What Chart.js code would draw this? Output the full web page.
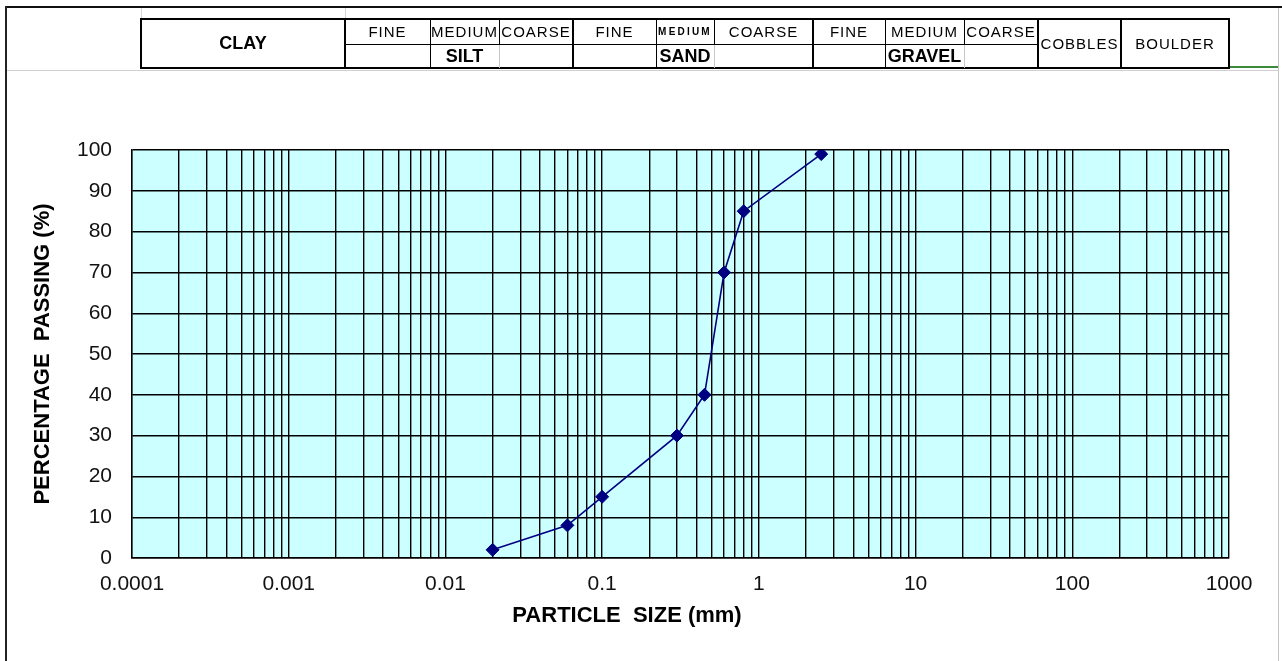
<!DOCTYPE html>
<html>
<head>
<meta charset="utf-8">
<script src="https://cdn.jsdelivr.net/npm/chart.js@4/dist/chart.umd.min.js"></script>
<style>
  html, body { margin: 0; padding: 0; background: #fff; overflow: hidden; }
  #wrap { position: relative; width: 1282px; height: 661px; }
  #chart { position: absolute; left: 0; top: 0; }
  .ln { position: absolute; background: #000; }
  .cell { position: absolute; display: flex; align-items: center; justify-content: center;
          font-family: 'Liberation Sans', Arial, sans-serif; color: #000; white-space: nowrap; }
  .reg { font-size: 15px; letter-spacing: 1px; }
  .bold { font-size: 18px; font-weight: bold; }
  .tiny { font-size: 10px; font-weight: bold; letter-spacing: 2.2px; }
</style>
</head>
<body>
<div id="wrap">
  <canvas id="chart" width="1282" height="661"></canvas>
  <div id="header"></div>
</div>
<script>
// ---------------- data ----------------
const particleSizes = [0.02, 0.06, 0.1, 0.3, 0.45, 0.6, 0.8, 2.5];     // mm
const percentPassing = [2, 8, 15, 30, 40, 70, 85, 99];                  // %
const xDecadeLabels = ['0.0001', '0.001', '0.01', '0.1', '1', '10', '100', '1000'];
const yTickValues = [0, 10, 20, 30, 40, 50, 60, 70, 80, 90, 100];
const xTitle = 'PARTICLE  SIZE (mm)';
const yTitle = 'PERCENTAGE  PASSING (%)';

// header classification labels
const topRowLabels = ['FINE', 'MEDIUM', 'COARSE', 'FINE', 'MEDIUM', 'COARSE', 'FINE', 'MEDIUM', 'COARSE'];
const groupLabels = ['SILT', 'SAND', 'GRAVEL'];
const sideLabels = ['CLAY', 'COBBLES', 'BOULDER'];

// ---------------- header (layout) ----------------
const hdr = document.getElementById('header');
function line(l, t, w, h, color) {
  const d = document.createElement('div');
  d.className = 'ln';
  d.style.left = l + 'px'; d.style.top = t + 'px';
  d.style.width = w + 'px'; d.style.height = h + 'px';
  if (color) d.style.background = color;
  hdr.appendChild(d);
}
function cell(l, t, r, b, text, cls) {
  const d = document.createElement('div');
  d.className = 'cell ' + cls;
  d.style.left = l + 'px'; d.style.top = t + 'px';
  d.style.width = (r - l) + 'px'; d.style.height = (b - t) + 'px';
  d.textContent = text;
  hdr.appendChild(d);
}
// page frame
line(5, 6, 1277, 2, '#111');
line(5, 6, 2, 655, '#222');
line(1278, 8, 1, 653, '#c4c4c4');
line(7, 70, 1271, 1, '#d0d0d0');
line(1230, 66, 48, 2, '#3c8a3c');
line(141, 8, 1, 11, '#d4d4d4');
line(345, 8, 1, 11, '#d4d4d4');

const edges = [141, 345, 430, 499, 573, 656, 714, 813, 885, 964, 1038, 1121, 1229];
const T = 19, M = 44, B = 68;
// outer table border
line(140, 18, 1090, 2);
line(140, 67, 1090, 2);
line(140, 18, 2, 51);
line(1228, 18, 2, 51);
// group boundaries (full height)
[345, 573, 813, 1038, 1121].forEach(x => line(x - 1, 18, 2, 51));
// sub-divisions in upper row
[430, 499, 656, 714, 885, 964].forEach(x => line(x, 19, 1, 25));
// lower row dividers
[430, 656, 885].forEach(x => line(x, 44, 1, 24));
[499, 714, 964].forEach(x => line(x, 44, 1, 24, '#c8c8c8'));
// middle horizontal divider
line(345, 44, 693, 1);

// texts
cell(edges[0], T, edges[1], B, sideLabels[0], 'bold');
for (let i = 0; i < 9; i++) {
  const cls = (i === 4) ? 'tiny' : 'reg';
  cell(edges[i + 1], T, edges[i + 2], M, topRowLabels[i], cls);
}
cell(edges[2], M, edges[3], B, groupLabels[0], 'bold');
cell(edges[5], M, edges[6], B, groupLabels[1], 'bold');
cell(edges[8], M, edges[9], B, groupLabels[2], 'bold');
cell(edges[10], T, edges[11], B, sideLabels[1], 'reg');
cell(edges[11], T, edges[12], B, sideLabels[2], 'reg');

// ---------------- chart ----------------
const points = particleSizes.map((x, i) => ({ x: x, y: percentPassing[i] }));

function logGridTicks() {
  const ticks = [];
  for (let e = 0; e < xDecadeLabels.length; e++) {
    const base = parseFloat(xDecadeLabels[e]);
    if (e === xDecadeLabels.length - 1) { ticks.push({ value: base }); break; }
    for (let m = 1; m <= 9; m++) ticks.push({ value: base * m });
  }
  return ticks;
}

const bgPlugin = {
  id: 'plotBg',
  beforeDraw(chart) {
    const { ctx, chartArea: a } = chart;
    ctx.save();
    ctx.fillStyle = '#ccffff';
    ctx.fillRect(a.left, a.top, a.right - a.left, a.bottom - a.top);
    ctx.restore();
  }
};

const titlesPlugin = {
  id: 'axisTitles',
  afterDraw(chart) {
    const { ctx, chartArea: a } = chart;
    ctx.save();
    ctx.fillStyle = '#000';
    ctx.font = 'bold 22px "Liberation Sans", Arial, sans-serif';
    ctx.textAlign = 'center';
    ctx.textBaseline = 'middle';
    ctx.fillText(xTitle, 627, a.bottom + 58);
    ctx.translate(43, (a.top + a.bottom) / 2);
    ctx.rotate(-Math.PI / 2);
    ctx.fillText(yTitle, 0, 0);
    ctx.restore();
  }
};

new Chart(document.getElementById('chart'), {
  type: 'line',
  data: {
    datasets: [{
      data: points,
      borderColor: '#000080',
      borderWidth: 1.6,
      backgroundColor: '#000080',
      pointStyle: 'rectRot',
      pointRadius: 6.5,
      pointBackgroundColor: '#000080',
      pointBorderColor: '#000080',
      pointBorderWidth: 1,
      tension: 0,
      fill: false
    }]
  },
  options: {
    responsive: false,
    animation: false,
    devicePixelRatio: 1,
    layout: { padding: { top: 150, right: 53, left: 0, bottom: 0 } },
    plugins: { legend: { display: false }, tooltip: { enabled: false } },
    scales: {
      x: {
        type: 'logarithmic',
        min: 0.0001,
        max: 1000,
        afterBuildTicks(scale) { scale.ticks = logGridTicks(); },
        afterFit(scale) { scale.height = 103; },
        grid: { color: '#000', lineWidth: 1.4, drawTicks: false },
        border: { display: true, color: '#000', width: 1.4 },
        ticks: {
          autoSkip: false,
          maxRotation: 0,
          padding: 14,
          color: '#111',
          font: { family: '"Liberation Sans", Arial, sans-serif', size: 21 },
          callback(value) {
            const lg = Math.log10(value);
            if (Math.abs(lg - Math.round(lg)) < 1e-6) return xDecadeLabels[Math.round(lg) + 4];
            return '';
          }
        }
      },
      y: {
        type: 'linear',
        min: 0,
        max: 100,
        afterBuildTicks(scale) { scale.ticks = yTickValues.map(v => ({ value: v })); },
        afterFit(scale) { scale.width = 132; },
        grid: { color: '#000', lineWidth: 1.4, drawTicks: false },
        border: { display: true, color: '#000', width: 1.4 },
        ticks: {
          padding: 20,
          color: '#111',
          font: { family: '"Liberation Sans", Arial, sans-serif', size: 21 }
        }
      }
    }
  },
  plugins: [bgPlugin, titlesPlugin]
});
</script>
</body>
</html>
